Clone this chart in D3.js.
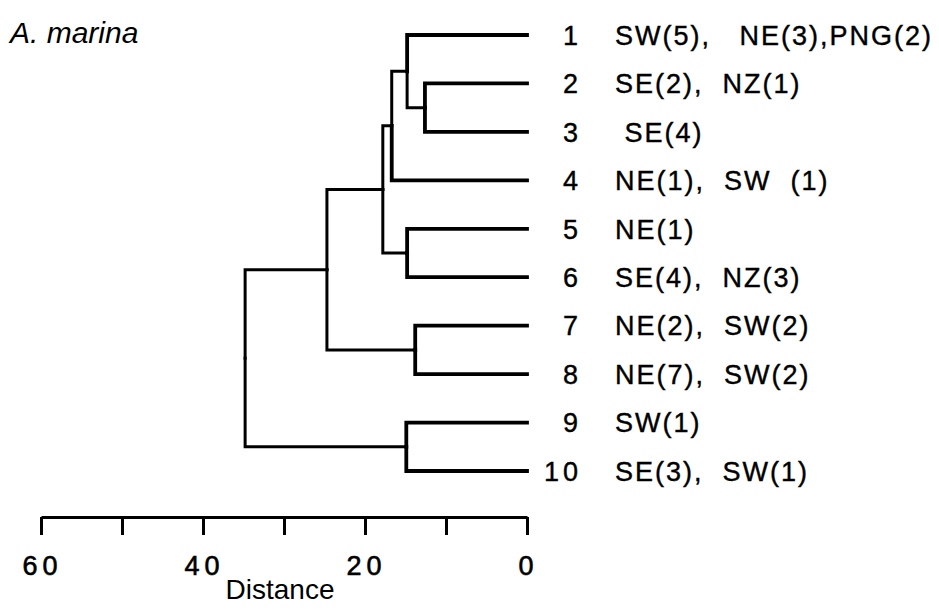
<!DOCTYPE html>
<html>
<head>
<meta charset="utf-8">
<script src="https://cdn.jsdelivr.net/npm/d3@7"></script>
<style>
  body { margin: 0; background: #fff; }
  svg text { font-family: "Liberation Sans", Arial, Helvetica, sans-serif; white-space: pre; }
</style>
</head>
<body>
<svg id="chart" width="939" height="614"></svg>
<script>
var width = 939;
var height = 614;

// leaves, top to bottom
var leafIds = ["1", "2", "3", "4", "5", "6", "7", "8", "9", "10"];
var leafLabels = [
  "SW(5),   NE(3),PNG(2)",
  "SE(2),  NZ(1)",
  " SE(4)",
  "NE(1),  SW  (1)",
  "NE(1)",
  "SE(4),  NZ(3)",
  "NE(2),  SW(2)",
  "NE(7),  SW(2)",
  "SW(1)",
  "SE(3),  SW(1)"
];

// linkage: [left, right, distance], new node named "n" + (index+1)
var merges = [
  ["2", "3", 12.6],
  ["1", "n1", 14.8],
  ["n2", "4", 16.7],
  ["5", "6", 14.8],
  ["n3", "n4", 17.8],
  ["7", "8", 13.8],
  ["n5", "n6", 24.7],
  ["9", "10", 14.9],
  ["n7", "n8", 34.8]
];

var axisTicks = [60, 50, 40, 30, 20, 10, 0];
var axisLabels = [60, 40, 20, 0];

// build the tree from the linkage table
var nodes = {};
leafIds.forEach(function(id, i) {
  nodes[id] = { name: id, label: leafLabels[i], dist: 0 };
});
merges.forEach(function(m, i) {
  nodes["n" + (i + 1)] = { name: "n" + (i + 1), dist: m[2], children: [nodes[m[0]], nodes[m[1]]] };
});
var root = d3.hierarchy(nodes["n" + merges.length]);

// first and last leaf rows; cluster pads half a step at each end
var leafTop = 35, leafBottom = 471;
var step = (leafBottom - leafTop) / (leafIds.length - 1);
d3.cluster().size([step * leafIds.length, 1]).separation(function() { return 1; })(root);

var x = d3.scaleLinear().domain([60, 0]).range([41, 527]);
var y = function(d) { return d.x + leafTop - step / 2; };

var svg = d3.select("#chart");

svg.append("text")
  .attr("x", 10)
  .attr("y", 43)
  .attr("font-size", 30)
  .attr("font-style", "italic")
  .text("A. marina");

// elbow links
svg.append("g")
  .selectAll("path")
  .data(root.links())
  .enter().append("path")
    .attr("fill", "none")
    .attr("stroke", "#000")
    .attr("stroke-width", function(d) { return d.target.children ? 3 : 3.8; })
    .attr("stroke-linecap", "square")
    .attr("d", function(d) {
      return "M" + x(d.target.data.dist) + "," + y(d.target) +
        "H" + x(d.source.data.dist) + "V" + y(d.source);
    });

// leaf numbers and labels
var leaves = svg.append("g")
  .attr("stroke", "#000")
  .attr("stroke-width", 0.4)
  .selectAll("g")
  .data(root.leaves())
  .enter().append("g")
    .attr("transform", function(d) { return "translate(0," + y(d) + ")"; });

leaves.append("text")
  .attr("x", 582)
  .attr("dy", "0.36em")
  .attr("text-anchor", "end")
  .attr("font-size", 27)
  .attr("letter-spacing", "4px")
  .text(function(d) { return d.data.name; });

leaves.append("text")
  .attr("x", 615)
  .attr("dy", "0.36em")
  .attr("font-size", 27)
  .attr("letter-spacing", "2px")
  .text(function(d) { return d.data.label; });

// distance axis
var axis = svg.append("g")
  .attr("transform", "translate(0,517)")
  .call(d3.axisBottom(x)
    .tickValues(axisTicks)
    .tickSize(18)
    .tickSizeOuter(0)
    .tickFormat(function(d) { return axisLabels.indexOf(d) >= 0 ? d : ""; }));

axis.select(".domain").attr("stroke-width", 3);
axis.selectAll(".tick line").attr("stroke-width", 3);
axis.selectAll(".tick text")
  .attr("y", 58)
  .attr("dy", 0)
  .attr("dx", "1px")
  .attr("font-size", 27)
  .attr("letter-spacing", "5px")
  .attr("font-family", "Liberation Sans, Arial, sans-serif")
  .attr("fill", "#000")
  .attr("stroke", "#000")
  .attr("stroke-width", 0.6);

svg.append("text")
  .attr("x", 280)
  .attr("y", 599)
  .attr("text-anchor", "middle")
  .attr("font-size", 28)
  .text("Distance");
</script>
</body>
</html>
